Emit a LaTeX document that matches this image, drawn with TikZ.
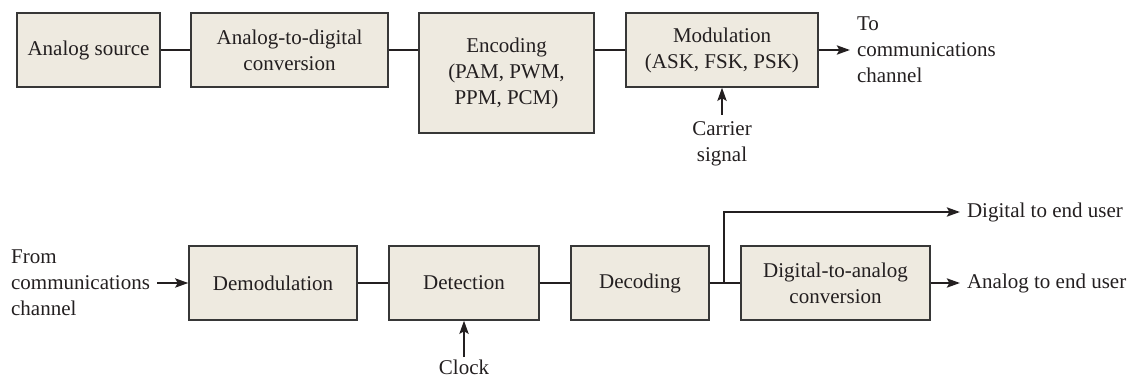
\documentclass[tikz,border=0pt]{standalone}
\usepackage{fontspec}
\setmainfont{Liberation Serif}
\usetikzlibrary{arrows.meta}
\definecolor{boxfill}{RGB}{238,234,224}
\definecolor{boxline}{RGB}{55,55,55}
\definecolor{ink}{RGB}{35,31,32}

\begin{document}
\begin{tikzpicture}[
        x=0.5pt, y=-0.5pt,
        every node/.style={font=\fontsize{10.5}{13}\selectfont, text=ink},
        block/.style={draw=boxline, line width=0.65pt, fill=boxfill, minimum height=37pt, align=center},
        label/.style={align=left},
        link/.style={draw=ink, line width=1.4pt},
        feed/.style={link, -{Stealth[length=6.5pt, width=4.5pt, inset=1.2pt]}}
    ]
    \useasboundingbox (0,0) rectangle (1139,384);

    % transmitter
    \node[block, minimum width=71.5pt] (source) at (88.5,50) {Analog source};
    \node[block, minimum width=98.5pt] (adc) at (289.5,50) {Analog-to-digital\\conversion};
    \node[block, minimum width=87.5pt, minimum height=60pt] (encode) at (506.5,73) {Encoding\\(PAM, PWM,\\PPM, PCM)};
    \node[block, minimum width=96pt] (modul) at (722,50) {Modulation\\(ASK, FSK, PSK)};
    \node[label, anchor=west] (tochan) at (850,50) {To\\communications\\channel};
    \node[align=center, anchor=north] (carrier) at (722,115) {Carrier\\signal};

    \draw[link] (source) -- (adc);
    \draw[link] (adc.east) -- (adc.east -| encode.west);
    \draw[link] (modul.west -| encode.east) -- (modul.west);
    \draw[feed] (modul) -- (tochan);
    \draw[feed] (carrier) -- (modul);

    % receiver
    \node[label, anchor=east] (fromchan) at (157,283) {From\\communications\\channel};
    \node[block, minimum width=84pt] (demod) at (273,283) {Demodulation};
    \node[block, minimum width=75pt] (detect) at (464,283) {Detection};
    \node[block, minimum width=69pt] (decode) at (640,283) {Decoding};
    \node[block, minimum width=94.5pt] (dac) at (835.5,283) {Digital-to-analog\\conversion};
    \node[anchor=west] (digout) at (960,212) {Digital to end user};
    \node[anchor=west] (anaout) at (960,283) {Analog to end user};
    \node[anchor=north, inner sep=1.5pt] (clock) at (464,357) {Clock};
    \coordinate (split) at (724,283);

    \draw[feed] (fromchan) -- (demod);
    \draw[link] (demod) -- (detect);
    \draw[link] (detect) -- (decode);
    \draw[link] (decode) -- (dac);
    \draw[feed] (split) |- (digout);
    \draw[feed] (dac) -- (anaout);
    \draw[feed] (clock) -- (detect);
\end{tikzpicture}
\end{document}
